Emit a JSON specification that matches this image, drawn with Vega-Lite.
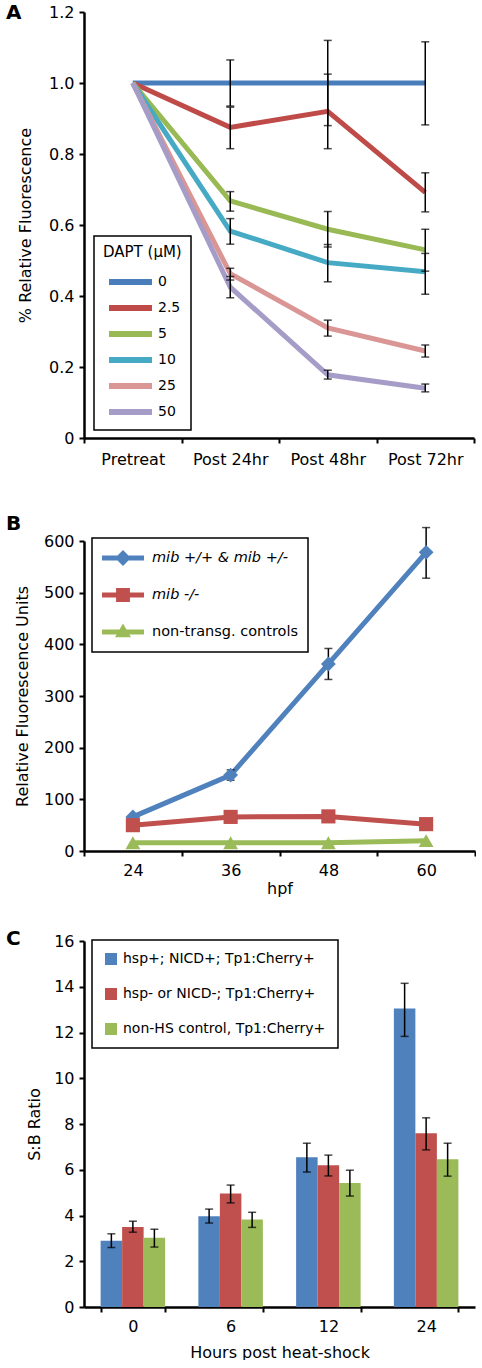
{
  "$schema": "https://vega.github.io/schema/vega-lite/v6.json",
  "background": "white",
  "padding": {"left": 6, "top": 3, "right": 0, "bottom": 0},
  "datasets": {
    "a": [
      {"dapt": "0", "stage": "Pretreat", "v": 1.0},
      {"dapt": "0", "stage": "Post 24hr", "v": 1.0, "lo": 0.935, "hi": 1.065},
      {"dapt": "0", "stage": "Post 48hr", "v": 1.0, "lo": 0.88, "hi": 1.12},
      {"dapt": "0", "stage": "Post 72hr", "v": 1.0, "lo": 0.882, "hi": 1.116},
      {"dapt": "2.5", "stage": "Pretreat", "v": 1.0},
      {"dapt": "2.5", "stage": "Post 24hr", "v": 0.875, "lo": 0.815, "hi": 0.932},
      {"dapt": "2.5", "stage": "Post 48hr", "v": 0.92, "lo": 0.815, "hi": 1.025},
      {"dapt": "2.5", "stage": "Post 72hr", "v": 0.692, "lo": 0.637, "hi": 0.747},
      {"dapt": "5", "stage": "Pretreat", "v": 1.0},
      {"dapt": "5", "stage": "Post 24hr", "v": 0.668, "lo": 0.639, "hi": 0.694},
      {"dapt": "5", "stage": "Post 48hr", "v": 0.588, "lo": 0.538, "hi": 0.638},
      {"dapt": "5", "stage": "Post 72hr", "v": 0.53, "lo": 0.47, "hi": 0.588},
      {"dapt": "10", "stage": "Pretreat", "v": 1.0},
      {"dapt": "10", "stage": "Post 24hr", "v": 0.583, "lo": 0.546, "hi": 0.618},
      {"dapt": "10", "stage": "Post 48hr", "v": 0.494, "lo": 0.44, "hi": 0.545},
      {"dapt": "10", "stage": "Post 72hr", "v": 0.468, "lo": 0.405, "hi": 0.52},
      {"dapt": "25", "stage": "Pretreat", "v": 1.0},
      {"dapt": "25", "stage": "Post 24hr", "v": 0.463, "lo": 0.445, "hi": 0.478},
      {"dapt": "25", "stage": "Post 48hr", "v": 0.31, "lo": 0.287, "hi": 0.332},
      {"dapt": "25", "stage": "Post 72hr", "v": 0.245, "lo": 0.228, "hi": 0.262},
      {"dapt": "50", "stage": "Pretreat", "v": 1.0},
      {"dapt": "50", "stage": "Post 24hr", "v": 0.425, "lo": 0.395, "hi": 0.455},
      {"dapt": "50", "stage": "Post 48hr", "v": 0.178, "lo": 0.166, "hi": 0.191},
      {"dapt": "50", "stage": "Post 72hr", "v": 0.14, "lo": 0.13, "hi": 0.152}
    ],
    "b": [
      {"geno": "mib +/+ & mib +/-", "hpf": "24", "v": 66},
      {"geno": "mib +/+ & mib +/-", "hpf": "36", "v": 147, "lo": 137, "hi": 157},
      {"geno": "mib +/+ & mib +/-", "hpf": "48", "v": 362, "lo": 332, "hi": 392},
      {"geno": "mib +/+ & mib +/-", "hpf": "60", "v": 578, "lo": 528, "hi": 626},
      {"geno": "mib -/-", "hpf": "24", "v": 50},
      {"geno": "mib -/-", "hpf": "36", "v": 66},
      {"geno": "mib -/-", "hpf": "48", "v": 67},
      {"geno": "mib -/-", "hpf": "60", "v": 52},
      {"geno": "non-transg. controls", "hpf": "24", "v": 16},
      {"geno": "non-transg. controls", "hpf": "36", "v": 16},
      {"geno": "non-transg. controls", "hpf": "48", "v": 16},
      {"geno": "non-transg. controls", "hpf": "60", "v": 20}
    ],
    "c": [
      {"grp": "hsp+; NICD+; Tp1:Cherry+", "hours": "0", "v": 2.9, "lo": 2.6, "hi": 3.2},
      {"grp": "hsp+; NICD+; Tp1:Cherry+", "hours": "6", "v": 3.97, "lo": 3.67, "hi": 4.28},
      {"grp": "hsp+; NICD+; Tp1:Cherry+", "hours": "12", "v": 6.55, "lo": 5.9, "hi": 7.16},
      {"grp": "hsp+; NICD+; Tp1:Cherry+", "hours": "24", "v": 13.05, "lo": 11.83, "hi": 14.15},
      {"grp": "hsp- or NICD-; Tp1:Cherry+", "hours": "0", "v": 3.5, "lo": 3.27, "hi": 3.75},
      {"grp": "hsp- or NICD-; Tp1:Cherry+", "hours": "6", "v": 4.96, "lo": 4.55, "hi": 5.33},
      {"grp": "hsp- or NICD-; Tp1:Cherry+", "hours": "12", "v": 6.2, "lo": 5.73, "hi": 6.64},
      {"grp": "hsp- or NICD-; Tp1:Cherry+", "hours": "24", "v": 7.6, "lo": 6.87, "hi": 8.27},
      {"grp": "non-HS control, Tp1:Cherry+", "hours": "0", "v": 3.03, "lo": 2.62, "hi": 3.4},
      {"grp": "non-HS control, Tp1:Cherry+", "hours": "6", "v": 3.83, "lo": 3.48, "hi": 4.14},
      {"grp": "non-HS control, Tp1:Cherry+", "hours": "12", "v": 5.42, "lo": 4.85, "hi": 5.98},
      {"grp": "non-HS control, Tp1:Cherry+", "hours": "24", "v": 6.46, "lo": 5.72, "hi": 7.16}
    ]
  },
  "config": {
    "font": "DejaVu Sans",
    "view": {"stroke": null},
    "axis": {
      "labelFont": "DejaVu Sans", "labelFontSize": 16, "labelColor": "black",
      "titleFont": "DejaVu Sans", "titleFontSize": 16, "titleFontWeight": "normal", "titleColor": "black",
      "domainColor": "black", "domainWidth": 2.5, "tickColor": "black", "tickWidth": 2, "tickSize": 5,
      "grid": false, "labelPadding": 5
    },
    "legend": {
      "labelFont": "DejaVu Sans", "titleFont": "DejaVu Sans", "labelColor": "black", "titleColor": "black",
      "strokeColor": "black", "strokeWidth": 1.5, "fillColor": "white", "labelLimit": 320
    },
    "title": {"font": "DejaVu Sans", "fontSize": 20, "fontWeight": "bold", "color": "black", "anchor": "start", "frame": "group", "offset": 0}
  },
  "spacing": 103,
  "bounds": "flush",
  "resolve": {"scale": {"color": "independent", "shape": "independent"}, "legend": {"color": "independent", "shape": "independent"}},
  "vconcat": [
    {
      "width": 390,
      "height": 426,
      "title": {"text": "A", "dx": -78, "dy": 23},
      "data": {"name": "a"},
      "encoding": {
        "x": {"field": "stage", "type": "nominal", "sort": ["Pretreat", "Post 24hr", "Post 48hr", "Post 72hr"],
              "scale": {"type": "band", "paddingInner": 0, "paddingOuter": 0},
              "axis": {"title": null, "labelAngle": 0, "tickBand": "extent", "labelPadding": 8}}
      },
      "layer": [
        {
          "mark": {"type": "line", "strokeWidth": 5},
          "encoding": {
            "y": {"field": "v", "type": "quantitative", "scale": {"domain": [0, 1.2], "nice": false},
                  "axis": {"title": "% Relative Fluorescence", "values": [0, 0.2, 0.4, 0.6, 0.8, 1.0, 1.2],
                           "labelExpr": "datum.value == 0 ? '0' : format(datum.value, '.1f')", "titlePadding": 15}},
            "color": {"field": "dapt", "type": "nominal", "sort": ["0", "2.5", "5", "10", "25", "50"],
                      "scale": {"domain": ["0", "2.5", "5", "10", "25", "50"],
                                "range": ["#4A7EBB", "#BE4B48", "#98B954", "#46AAC5", "#D99694", "#A69CC8"]},
                      "legend": {"title": "DAPT (μM)", "orient": "none", "legendX": 10, "legendY": 224,
                                 "symbolType": "stroke", "symbolSize": 1849, "symbolStrokeWidth": 6, "symbolOffset": 3,
                                 "titleFontSize": 15, "titleFontWeight": "normal", "labelFontSize": 14, "titlePadding": 13,
                                 "clipHeight": 18, "rowPadding": 8, "padding": 9, "labelOffset": 3}}
          }
        },
        {
          "transform": [{"filter": "datum.lo != null"}],
          "mark": {"type": "rule", "color": "black", "strokeWidth": 1.5},
          "encoding": {"y": {"field": "lo", "type": "quantitative"}, "y2": {"field": "hi"}}
        },
        {
          "transform": [{"filter": "datum.lo != null"}],
          "mark": {"type": "tick", "color": "black", "thickness": 1.5, "size": 8},
          "encoding": {"y": {"field": "lo", "type": "quantitative"}}
        },
        {
          "transform": [{"filter": "datum.lo != null"}],
          "mark": {"type": "tick", "color": "black", "thickness": 1.5, "size": 8},
          "encoding": {"y": {"field": "hi", "type": "quantitative"}}
        }
      ]
    },
    {
      "spacing": 90,
      "bounds": "flush",
      "resolve": {"scale": {"color": "independent", "shape": "independent"}, "legend": {"color": "independent", "shape": "independent"}},
      "vconcat": [
        {
          "width": 391,
          "height": 310,
          "title": {"text": "B", "dx": -78, "dy": 11},
          "data": {"name": "b"},
          "encoding": {
            "x": {"field": "hpf", "type": "nominal", "sort": ["24", "36", "48", "60"],
                  "scale": {"type": "band", "paddingInner": 0, "paddingOuter": 0},
                  "axis": {"title": "hpf", "labelAngle": 0, "tickBand": "extent", "labelPadding": 6, "titlePadding": 2}}
          },
          "layer": [
            {
              "mark": {"type": "line", "strokeWidth": 5},
              "encoding": {
                "y": {"field": "v", "type": "quantitative", "scale": {"domain": [0, 600], "nice": false},
                      "axis": {"title": "Relative Fluorescence Units", "values": [0, 100, 200, 300, 400, 500, 600], "titlePadding": 13}},
                "color": {"field": "geno", "type": "nominal", "sort": ["mib +/+ & mib +/-", "mib -/-", "non-transg. controls"],
                          "scale": {"domain": ["mib +/+ & mib +/-", "mib -/-", "non-transg. controls"], "range": ["#4F81BD", "#C0504D", "#9BBB59"]},
                          "legend": {"title": null, "orient": "none", "legendX": 8, "legendY": -3,
                                     "symbolSize": 1764, "clipHeight": 20, "rowPadding": 17, "labelFontSize": 14.5,
                                     "padding": 10, "labelOffset": 8,
                                     "encode": {
                                       "labels": {"update": {
                                         "fontStyle": {"signal": "indexof(datum.label, 'mib') == 0 ? 'italic' : 'normal'"}
                                       }},
                                       "symbols": {"update": {
                                       "shape": {"signal": "datum.value == 'mib -/-' ? 'M-1,-0.12L-0.33,-0.12L-0.33,-0.33L0.33,-0.33L0.33,-0.12L1,-0.12L1,0.12L0.33,0.12L0.33,0.33L-0.33,0.33L-0.33,0.12L-1,0.12Z' : datum.value == 'non-transg. controls' ? 'M-1,-0.12L-0.164,-0.12L0,-0.4L0.164,-0.12L1,-0.12L1,0.12L0.304,0.12L0.38,0.25L-0.38,0.25L-0.304,0.12L-1,0.12Z' : 'M-1,-0.12L-0.26,-0.12L0,-0.38L0.26,-0.12L1,-0.12L1,0.12L0.26,0.12L0,0.38L-0.26,0.12L-1,0.12Z'"},
                                       "fill": {"signal": "datum.value == 'mib -/-' ? '#C0504D' : datum.value == 'non-transg. controls' ? '#9BBB59' : '#4F81BD'"},
                                       "stroke": {"value": "transparent"},
                                       "strokeWidth": {"value": 0},
                                       "opacity": {"value": 1}
                                     }}}}}
              }
            },
            {
              "transform": [{"filter": "datum.lo != null"}],
              "mark": {"type": "rule", "color": "black", "strokeWidth": 1.5},
              "encoding": {"y": {"field": "lo", "type": "quantitative"}, "y2": {"field": "hi"}}
            },
            {
              "transform": [{"filter": "datum.lo != null"}],
              "mark": {"type": "tick", "color": "black", "thickness": 1.5, "size": 8},
              "encoding": {"y": {"field": "lo", "type": "quantitative"}}
            },
            {
              "transform": [{"filter": "datum.lo != null"}],
              "mark": {"type": "tick", "color": "black", "thickness": 1.5, "size": 8},
              "encoding": {"y": {"field": "hi", "type": "quantitative"}}
            },
            {
              "transform": [{"filter": "datum.geno == 'mib +/+ & mib +/-'"}],
              "mark": {"type": "point", "filled": true, "opacity": 1, "size": 220, "shape": "diamond"},
              "encoding": {"y": {"field": "v", "type": "quantitative"}, "color": {"field": "geno", "type": "nominal"}}
            },
            {
              "transform": [{"filter": "datum.geno == 'mib -/-'"}],
              "mark": {"type": "point", "filled": true, "opacity": 1, "size": 200, "shape": "square"},
              "encoding": {"y": {"field": "v", "type": "quantitative"}, "color": {"field": "geno", "type": "nominal"}}
            },
            {
              "transform": [{"filter": "datum.geno == 'non-transg. controls'"}],
              "mark": {"type": "point", "filled": true, "opacity": 1, "size": 220, "shape": "triangle-up"},
              "encoding": {"y": {"field": "v", "type": "quantitative"}, "color": {"field": "geno", "type": "nominal"}}
            }
          ]
        },
        {
          "width": 391,
          "height": 366,
          "title": {"text": "C", "dx": -78, "dy": 20},
          "data": {"name": "c"},
          "encoding": {
            "x": {"field": "hours", "type": "nominal", "sort": ["0", "6", "12", "24"],
                  "scale": {"type": "band", "paddingInner": 0.34, "paddingOuter": 0.17},
                  "axis": {"title": "Hours post heat-shock", "labelAngle": 0, "tickBand": "extent", "labelPadding": 6, "titlePadding": 10}},
            "xOffset": {"field": "grp", "type": "nominal", "sort": ["hsp+; NICD+; Tp1:Cherry+", "hsp- or NICD-; Tp1:Cherry+", "non-HS control, Tp1:Cherry+"]}
          },
          "layer": [
            {
              "mark": {"type": "bar"},
              "encoding": {
                "y": {"field": "v", "type": "quantitative", "scale": {"domain": [0, 16], "nice": false},
                      "axis": {"title": "S:B Ratio", "values": [0, 2, 4, 6, 8, 10, 12, 14, 16], "titlePadding": 11}},
                "color": {"field": "grp", "type": "nominal", "sort": ["hsp+; NICD+; Tp1:Cherry+", "hsp- or NICD-; Tp1:Cherry+", "non-HS control, Tp1:Cherry+"],
                          "scale": {"domain": ["hsp+; NICD+; Tp1:Cherry+", "hsp- or NICD-; Tp1:Cherry+", "non-HS control, Tp1:Cherry+"], "range": ["#4F81BD", "#C0504D", "#9BBB59"]},
                          "legend": {"title": null, "orient": "none", "legendX": 8, "legendY": -1,
                                     "symbolType": "square", "symbolSize": 144, "symbolStrokeWidth": 0,
                                     "labelFontSize": 14, "padding": 12, "labelOffset": 5,
                                     "clipHeight": 14, "rowPadding": 21}}
              }
            },
            {
              "mark": {"type": "rule", "color": "black", "strokeWidth": 1.5},
              "encoding": {"y": {"field": "lo", "type": "quantitative"}, "y2": {"field": "hi"}}
            },
            {
              "mark": {"type": "tick", "color": "black", "thickness": 1.5, "size": 8},
              "encoding": {"y": {"field": "lo", "type": "quantitative"}}
            },
            {
              "mark": {"type": "tick", "color": "black", "thickness": 1.5, "size": 8},
              "encoding": {"y": {"field": "hi", "type": "quantitative"}}
            }
          ]
        }
      ]
    }
  ]
}
